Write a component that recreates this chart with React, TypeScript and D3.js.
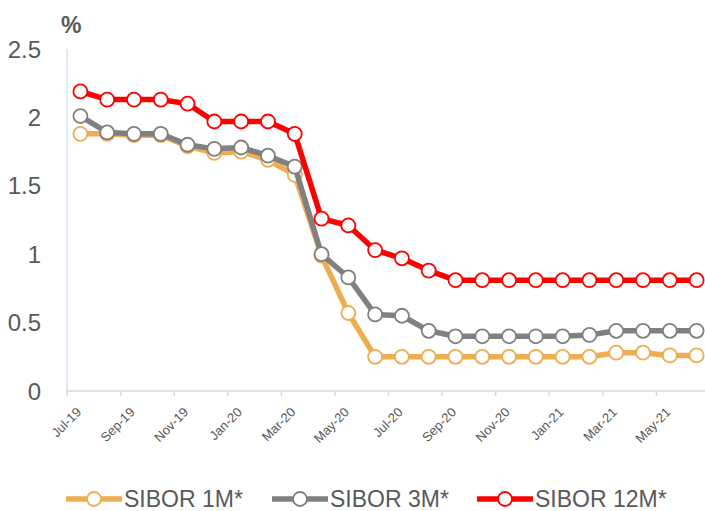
import React, { useRef, useEffect } from 'react';
import * as d3 from 'd3';

const months = [
  'Jul-19', 'Aug-19', 'Sep-19', 'Oct-19', 'Nov-19', 'Dec-19',
  'Jan-20', 'Feb-20', 'Mar-20', 'Apr-20', 'May-20', 'Jun-20',
  'Jul-20', 'Aug-20', 'Sep-20', 'Oct-20', 'Nov-20', 'Dec-20',
  'Jan-21', 'Feb-21', 'Mar-21', 'Apr-21', 'May-21', 'Jun-21',
];

const sibor1m = [
  1.88, 1.88, 1.87, 1.87, 1.79, 1.74, 1.75, 1.69, 1.58, 0.99, 0.57, 0.25,
  0.25, 0.25, 0.25, 0.25, 0.25, 0.25, 0.25, 0.25, 0.28, 0.28, 0.26, 0.26,
];
const sibor3m = [
  2.01, 1.89, 1.88, 1.88, 1.80, 1.77, 1.78, 1.72, 1.64, 1.00, 0.83, 0.56,
  0.55, 0.44, 0.40, 0.40, 0.40, 0.40, 0.40, 0.41, 0.44, 0.44, 0.44, 0.44,
];
const sibor12m = [
  2.19, 2.13, 2.13, 2.13, 2.10, 1.97, 1.97, 1.97, 1.88, 1.26, 1.21, 1.03,
  0.97, 0.88, 0.81, 0.81, 0.81, 0.81, 0.81, 0.81, 0.81, 0.81, 0.81, 0.81,
];

const yTicks = [0, 0.5, 1, 1.5, 2, 2.5];

const series = [
  { name: 'SIBOR 1M*', values: sibor1m, color: '#EDAD50' },
  { name: 'SIBOR 3M*', values: sibor3m, color: '#808080' },
  { name: 'SIBOR 12M*', values: sibor12m, color: '#FF0000' },
];

const App = () => {
  const ref = useRef<SVGSVGElement>(null);
  const width = 705;
  const height = 511;

  useEffect(() => {
    const margin = { top: 49, right: -5, bottom: 120, left: 67 };
    const svg = d3.select(ref.current);
    svg.selectAll('*').remove();

    const font = '"Liberation Sans", Arial, sans-serif';
    const textColor = '#595959';

    const x = d3.scaleBand()
      .domain(months)
      .range([margin.left, width - margin.right]);
    const y = d3.scaleLinear()
      .domain([0, 2.5])
      .range([height - margin.bottom, margin.top]);
    const cx = (i: number) => (x(months[i]) as number) + x.bandwidth() / 2;

    // y axis line
    svg.append('line')
      .attr('x1', margin.left).attr('x2', margin.left)
      .attr('y1', y(2.5)).attr('y2', y(0))
      .attr('stroke', '#D9E2F3').attr('stroke-width', 1.5);

    svg.append('g')
      .selectAll('text')
      .data(yTicks)
      .join('text')
        .attr('x', 41)
        .attr('y', d => y(d))
        .attr('dy', '0.36em')
        .attr('text-anchor', 'end')
        .attr('font-family', font)
        .attr('font-size', 24)
        .attr('fill', textColor)
        .text(d => String(d));

    svg.append('text')
      .attr('x', 61).attr('y', 33)
      .attr('font-family', font)
      .attr('font-size', 23)
      .attr('font-weight', 'bold')
      .attr('fill', textColor)
      .text('%');

    // x axis
    svg.append('line')
      .attr('x1', margin.left).attr('x2', width)
      .attr('y1', y(0)).attr('y2', y(0))
      .attr('stroke', '#D9D9D9').attr('stroke-width', 1.5);

    const tickMonths = months.filter((_, i) => i % 2 === 0);
    svg.append('g')
      .selectAll('line')
      .data(tickMonths)
      .join('line')
        .attr('x1', d => x(d) as number)
        .attr('x2', d => x(d) as number)
        .attr('y1', y(0))
        .attr('y2', y(0) + 5)
        .attr('stroke', '#D9D9D9').attr('stroke-width', 1.5);

    svg.append('g')
      .selectAll('text')
      .data(tickMonths)
      .join('text')
        .attr('transform', d => `translate(${(x(d) as number) + 15},${y(0) + 22}) rotate(-45)`)
        .attr('text-anchor', 'end')
        .attr('font-family', font)
        .attr('font-size', 13)
        .attr('fill', textColor)
        .text(d => d);

    const line = d3.line<number>()
      .x((_, i) => cx(i))
      .y(d => y(d));

    series.forEach(s => {
      const g = svg.append('g');
      g.append('path')
        .datum(s.values)
        .attr('d', line)
        .attr('fill', 'none')
        .attr('stroke', s.color)
        .attr('stroke-width', 5.5)
        .attr('stroke-linejoin', 'round');
      g.selectAll('circle')
        .data(s.values)
        .join('circle')
          .attr('cx', (_, i) => cx(i))
          .attr('cy', d => y(d))
          .attr('r', 7)
          .attr('fill', '#fff')
          .attr('stroke', s.color)
          .attr('stroke-width', 1.8);
    });

    // legend
    const legendX = [66, 272, 477];
    const legendY = 499;
    const lg = svg.append('g')
      .selectAll('g')
      .data(series)
      .join('g')
        .attr('transform', (_, i) => `translate(${legendX[i]},${legendY})`);
    lg.append('line')
      .attr('x1', 0).attr('x2', 56)
      .attr('y1', 0).attr('y2', 0)
      .attr('stroke', d => d.color)
      .attr('stroke-width', 5.5);
    lg.append('circle')
      .attr('cx', 28).attr('cy', 0).attr('r', 7)
      .attr('fill', '#fff')
      .attr('stroke', d => d.color)
      .attr('stroke-width', 1.8);
    lg.append('text')
      .attr('x', 58).attr('y', 0)
      .attr('dy', '0.36em')
      .attr('font-family', font)
      .attr('font-size', 23)
      .attr('fill', textColor)
      .text(d => d.name);
  }, []);

  return (
    <svg ref={ref} width={width} height={height} style={{ position: 'absolute', left: 0, top: 0 }}>
    </svg>
  );
};

export default App;
